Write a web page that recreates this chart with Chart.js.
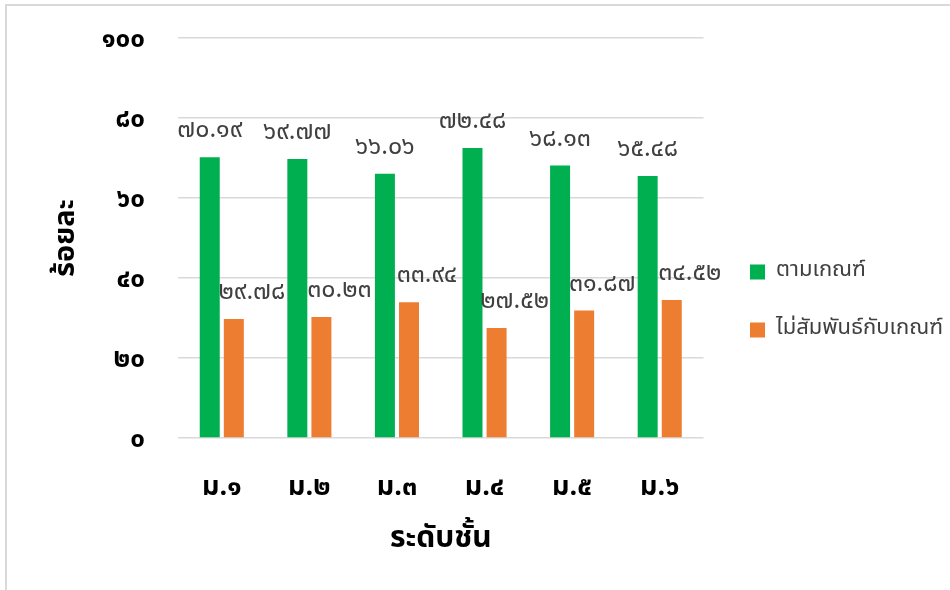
<!DOCTYPE html>
<html>
<head>
<meta charset="utf-8">
<script src="https://cdn.jsdelivr.net/npm/chart.js@4.4.1/dist/chart.umd.min.js"></script>
<style>
  html, body { margin: 0; padding: 0; background: #ffffff; }
  #wrap { position: relative; width: 950px; height: 590px; overflow: hidden; }
  #frame { position: absolute; left: 5px; top: 4px; width: 1000px; height: 1000px;
           border-left: 2px solid #d9d9d9; border-top: 2px solid #d9d9d9; pointer-events: none; }
  canvas { position: absolute; left: 0; top: 0; }
</style>
</head>
<body>
<div id="wrap">
  <canvas id="c" width="950" height="590"></canvas>
  <div id="frame"></div>
</div>
<script>
const categories = ['ม.๑', 'ม.๒', 'ม.๓', 'ม.๔', 'ม.๕', 'ม.๖'];
const seriesNames = ['ตามเกณฑ์', 'ไม่สัมพันธ์กับเกณฑ์'];
const meetCriteria = [70.19, 69.77, 66.06, 72.48, 68.13, 65.48];
const notRelated = [29.78, 30.23, 33.94, 27.52, 31.87, 34.52];
const yTicks = [0, 20, 40, 60, 80, 100];
const yTitle = 'ร้อยละ';
const xTitle = 'ระดับชั้น';
const colors = ['#00b050', '#ed7d31'];

const FONT = "'Noto Sans Thai', 'Noto Sans', 'DejaVu Sans', sans-serif";
const thaiDigits = ['๐','๑','๒','๓','๔','๕','๖','๗','๘','๙'];
function toThai(s) { return String(s).replace(/[0-9]/g, d => thaiDigits[+d]); }

const labelOffsets = [{dx: 0, dy: -25}, {dx: 18, dy: -25}];
const LEGEND_PAD = 36;
const LEGEND_BOX_X = 750;
const LEGEND_DY = -13;

const valueLabels = {
  id: 'valueLabels',
  afterDatasetsDraw(chart) {
    const ctx = chart.ctx;
    ctx.save();
    ctx.font = '25px ' + FONT;
    ctx.fillStyle = '#404040';
    ctx.textAlign = 'center';
    ctx.textBaseline = 'middle';
    chart.data.datasets.forEach((ds, di) => {
      const meta = chart.getDatasetMeta(di);
      meta.data.forEach((bar, i) => {
        const off = labelOffsets[di];
        ctx.fillText(toThai(ds.data[i].toFixed(2)), bar.x + off.dx, bar.y + off.dy);
      });
    });
    ctx.restore();
  }
};

const legendShift = {
  id: 'legendShift',
  afterLayout(chart) {
    const lg = chart.legend;
    if (!lg) return;
    const dx = LEGEND_BOX_X - (lg.left + LEGEND_PAD);
    lg.left += dx;
    lg.right += dx;
    lg.top += LEGEND_DY;
    lg.bottom += LEGEND_DY;
  }
};

new Chart(document.getElementById('c'), {
  type: 'bar',
  data: {
    labels: categories,
    datasets: [
      { label: seriesNames[0], data: meetCriteria, backgroundColor: colors[0] },
      { label: seriesNames[1], data: notRelated, backgroundColor: colors[1] }
    ]
  },
  options: {
    responsive: false,
    animation: false,
    devicePixelRatio: 1,
    layout: { padding: { left: 0, right: 12, top: 38, bottom: 0 } },
    datasets: { bar: { categoryPercentage: 0.55, barPercentage: 0.83 } },
    plugins: {
      legend: {
        position: 'right',
        labels: {
          font: { family: FONT, size: 22 },
          color: '#404040',
          boxWidth: 15,
          boxHeight: 15,
          padding: LEGEND_PAD
        }
      },
      tooltip: { enabled: false }
    },
    scales: {
      x: {
        afterFit(axis) { axis.height = 152; axis.paddingLeft = 0; axis.paddingRight = 0; },
        grid: { display: false, drawTicks: false },
        border: { display: false },
        ticks: { font: { family: FONT, size: 27, weight: 'bold' }, color: '#000000', padding: 35 },
        title: { display: true, text: xTitle, font: { family: FONT, size: 30, weight: 'bold' }, color: '#000000', padding: { top: 8, bottom: 31 } }
      },
      y: {
        min: 0, max: 100,
        afterFit(axis) { axis.width = 178; axis.paddingTop = 0; axis.paddingBottom = 0; },
        afterBuildTicks(axis) { axis.ticks = yTicks.map(v => ({ value: v })); },
        grid: { color: '#d9d9d9', lineWidth: 1.5, drawTicks: false },
        border: { display: false },
        ticks: {
          font: { family: FONT, size: 26, weight: 'bold' }, color: '#000000', padding: 33,
          labelOffset: 4,
          callback: v => toThai(v)
        },
        title: { display: true, text: yTitle, font: { family: FONT, size: 29, weight: 'bold' }, color: '#000000', padding: { top: 51, bottom: 8 } }
      }
    }
  },
  plugins: [valueLabels, legendShift]
});
</script>
</body>
</html>
